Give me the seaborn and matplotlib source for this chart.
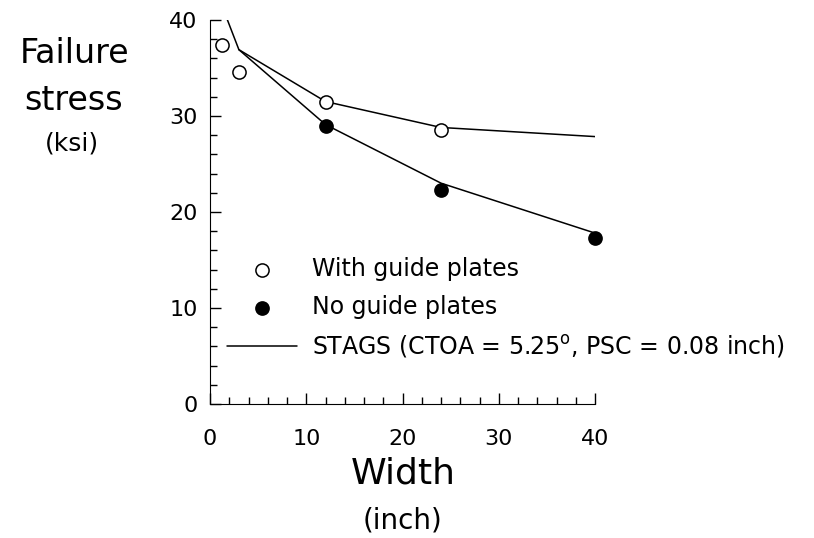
import matplotlib
matplotlib.use('Agg')
import matplotlib.pyplot as plt
import seaborn as sns
import pandas as pd

# measured data
width_guide = [1.2, 3, 12, 24]
stress_guide = [37.4, 34.6, 31.4, 28.5]
width_noguide = [12, 24, 40]
stress_noguide = [29.0, 22.3, 17.3]

# STAGS predictions
stags_w_guide = [1.5, 3, 12, 24, 40]
stags_s_guide = [40.8, 36.9, 31.5, 28.8, 27.85]
stags_w_noguide = [3, 12, 24, 40]
stags_s_noguide = [36.9, 29.1, 23.0, 17.8]

sns.set_style('ticks')
plt.rcParams['font.family'] = ['DejaVu Sans']
for k in ['text.color', 'axes.labelcolor', 'xtick.color', 'ytick.color', 'axes.edgecolor']:
    plt.rcParams[k] = 'black'

fig = plt.figure(figsize=(8.14, 5.38), dpi=100)
ax = fig.add_axes([0.258, 0.249, 0.473, 0.714])

df_g = pd.DataFrame({'w': width_guide, 's': stress_guide})
df_n = pd.DataFrame({'w': width_noguide, 's': stress_noguide})
df_sg = pd.DataFrame({'w': stags_w_guide, 's': stags_s_guide})
df_sn = pd.DataFrame({'w': stags_w_noguide, 's': stags_s_noguide})

sns.lineplot(data=df_sg, x='w', y='s', ax=ax, color='black', linewidth=1.1,
             sort=False, estimator=None, label='STAGS (CTOA = 5.25$^\\mathrm{o}$, PSC = 0.08 inch)')
sns.lineplot(data=df_sn, x='w', y='s', ax=ax, color='black', linewidth=1.1,
             sort=False, estimator=None, label='_nolegend_')
sns.scatterplot(data=df_g, x='w', y='s', ax=ax, marker='o', s=90, facecolor='white',
                edgecolor='black', linewidth=1.1, label='With guide plates', zorder=3,
                clip_on=False)
sns.scatterplot(data=df_n, x='w', y='s', ax=ax, marker='o', s=90, color='black',
                edgecolor='black', linewidth=1.1, label='No guide plates', zorder=3,
                clip_on=False)

ax.set_xlim(0, 40)
ax.set_ylim(0, 40)
ax.set_xticks([0, 10, 20, 30, 40])
ax.set_yticks([0, 10, 20, 30, 40])
ax.set_xticks(range(0, 41, 2), minor=True)
ax.set_yticks(range(0, 41, 2), minor=True)
ax.tick_params(which='major', direction='in', length=8, width=1, labelsize=16)
ax.tick_params(axis='x', which='major', pad=18)
ax.tick_params(axis='y', which='major', pad=9)
ax.tick_params(which='minor', direction='in', length=5, width=1)
for sp in ['top', 'right']:
    ax.spines[sp].set_visible(False)
ax.set_xlabel('')
ax.set_ylabel('')

handles, labels = ax.get_legend_handles_labels()
order = [labels.index('With guide plates'), labels.index('No guide plates'),
         labels.index([l for l in labels if l.startswith('STAGS')][0])]
leg = ax.legend([handles[i] for i in order], [labels[i] for i in order],
                loc='upper left', bbox_to_anchor=(0.0, 0.425), frameon=False,
                fontsize=17, handlelength=3.0, handletextpad=0.6, labelspacing=0.58,
                borderaxespad=0.3)

fig.text(0.092, 0.9, 'Failure', fontsize=24, ha='center', va='center')
fig.text(0.09, 0.814, 'stress', fontsize=24, ha='center', va='center')
fig.text(0.088, 0.734, '(ksi)', fontsize=18, ha='center', va='center')
fig.text(0.495, 0.119, 'Width', fontsize=26, ha='center', va='center')
fig.text(0.495, 0.032, '(inch)', fontsize=20, ha='center', va='center')

fig.savefig('out.png', dpi=100)
